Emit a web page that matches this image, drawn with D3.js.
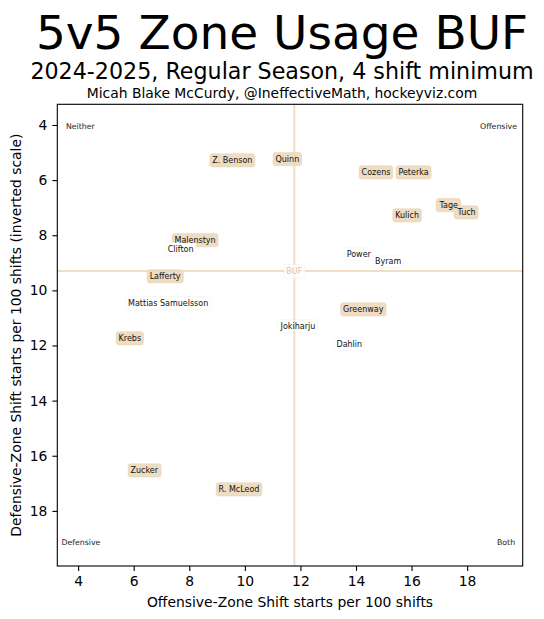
<!DOCTYPE html>
<html>
<head>
<meta charset="utf-8">
<script src="https://cdn.jsdelivr.net/npm/d3@7"></script>
<style>
  body { margin: 0; background: #fff; }
  svg { font-family: "DejaVu Sans", sans-serif; }
</style>
</head>
<body>
<div id="chart"></div>
<script>
// players
const playerNames = ["Z. Benson", "Quinn", "Cozens", "Peterka", "Tage", "Tuch", "Kulich",
  "Malenstyn", "Lafferty", "Greenway", "Krebs", "Zucker", "R. McLeod",
  "Clifton", "Power", "Byram", "Mattias Samuelsson", "Jokiharju", "Dahlin"];
const ozStarts = [9.55, 11.53, 14.72, 16.07, 17.34, 17.98, 15.84,
  8.21, 7.13, 14.26, 5.86, 6.38, 9.79,
  7.69, 14.10, 15.16, 7.24, 11.91, 13.76];
const dzStarts = [5.27, 5.23, 5.71, 5.71, 6.90, 7.16, 7.27,
  8.17, 9.48, 10.68, 11.73, 16.52, 17.21,
  8.49, 8.68, 8.95, 10.46, 11.29, 11.94];
const isForward = [true, true, true, true, true, true, true,
  true, true, true, true, true, true,
  false, false, false, false, false, false];

const teamName = "BUF";
const teamOz = 11.78;
const teamDz = 9.30;

const xTicks = [4, 6, 8, 10, 12, 14, 16, 18];
const yTicks = [4, 6, 8, 10, 12, 14, 16, 18];
const axisDomain = [3.25, 20];

const cornerLabels = ["Neither", "Offensive", "Defensive", "Both"];

const W = 544, H = 619;
const margin = { top: 104.3, right: 21.3, bottom: 53, left: 57.3 };
const tan = "#eedcc3";
const lineTan = "#efd9ba";

const svg = d3.select("#chart").append("svg")
  .attr("width", W).attr("height", H);

const x = d3.scaleLinear().domain(axisDomain).range([margin.left, W - margin.right]);
const y = d3.scaleLinear().domain(axisDomain).range([margin.top, H - margin.bottom]);

// titles
const cx = 282;
svg.append("text").attr("x", cx).attr("y", 49).attr("text-anchor", "middle")
  .attr("font-size", 47).text("5v5 Zone Usage BUF");
svg.append("text").attr("x", cx).attr("y", 78.5).attr("text-anchor", "middle")
  .attr("font-size", 22.2).text("2024-2025, Regular Season, 4 shift minimum");
svg.append("text").attr("x", cx).attr("y", 98).attr("text-anchor", "middle")
  .attr("font-size", 13.9).text("Micah Blake McCurdy, @IneffectiveMath, hockeyviz.com");

// axes
const xAxis = svg.append("g")
  .attr("transform", `translate(0,${H - margin.bottom})`)
  .call(d3.axisBottom(x).tickValues(xTicks).tickSize(4.9).tickPadding(5));
const yAxis = svg.append("g")
  .attr("transform", `translate(${margin.left},0)`)
  .call(d3.axisLeft(y).tickValues(yTicks).tickSize(4.9).tickPadding(5));
[xAxis, yAxis].forEach(g => {
  g.select(".domain").remove();
  g.selectAll("text").attr("font-size", 13.9).attr("font-family", "DejaVu Sans").attr("fill", "#000");
  g.selectAll("line").attr("stroke", "#000").attr("stroke-width", 1.1);
});

svg.append("text")
  .attr("x", (x.range()[0] + x.range()[1]) / 2).attr("y", 607)
  .attr("text-anchor", "middle").attr("font-size", 13.9)
  .text("Offensive-Zone Shift starts per 100 shifts");
svg.append("text")
  .attr("transform", `translate(21,${(y.range()[0] + y.range()[1]) / 2}) rotate(-90)`)
  .attr("text-anchor", "middle").attr("font-size", 13.9)
  .text("Defensive-Zone Shift starts per 100 shifts (inverted scale)");

const plot = svg.append("g");

// corner labels
const cornerPos = [[4.08, 4.06], [19.13, 4.06], [4.10, 19.14], [19.40, 19.14]];
plot.selectAll("text.corner").data(cornerLabels).enter().append("text")
  .attr("class", "corner")
  .attr("x", (d, i) => x(cornerPos[i][0]))
  .attr("y", (d, i) => y(cornerPos[i][1]))
  .attr("dy", "0.35em")
  .attr("text-anchor", "middle").attr("font-size", 7.8).attr("fill", "#222")
  .text(d => d);

// player labels: boxes first, then team lines, then text
const boxLayer = plot.append("g");
const lineLayer = plot.append("g");
const textLayer = plot.append("g");

const idx = d3.range(playerNames.length);
const labels = textLayer.selectAll("text").data(idx).enter().append("text")
  .attr("x", i => x(ozStarts[i]))
  .attr("y", i => y(dzStarts[i]))
  .attr("dy", "0.35em")
  .attr("text-anchor", "middle")
  .attr("font-size", 8)
  .attr("fill", "#111")
  .text(i => playerNames[i]);

const pad = 2.4;
labels.each(function (i) {
  const b = this.getBBox();
  boxLayer.append("rect")
    .attr("x", b.x - pad).attr("y", b.y - pad + 0.3)
    .attr("width", b.width + 2 * pad).attr("height", b.height + 2 * pad - 0.6)
    .attr("rx", 2.4).attr("ry", 2.4)
    .attr("fill", isForward[i] ? tan : "#fff")
    .attr("stroke", isForward[i] ? "#ead5b8" : "#f2f2f2")
    .attr("stroke-width", 0.6);
});

// team average lines
lineLayer.append("line")
  .attr("x1", x(teamOz)).attr("x2", x(teamOz))
  .attr("y1", y.range()[0]).attr("y2", y.range()[1])
  .attr("stroke", lineTan).attr("stroke-width", 2).attr("opacity", 0.85);
lineLayer.append("line")
  .attr("x1", x.range()[0]).attr("x2", x.range()[1])
  .attr("y1", y(teamDz)).attr("y2", y(teamDz))
  .attr("stroke", lineTan).attr("stroke-width", 2).attr("opacity", 0.85);

const buf = textLayer.append("text")
  .attr("x", x(teamOz)).attr("y", y(teamDz)).attr("dy", "0.35em")
  .attr("text-anchor", "middle").attr("font-size", 8).attr("fill", "#e2c6a2")
  .text(teamName);
const bb = buf.node().getBBox();
textLayer.insert("rect", "text:last-child")
  .attr("x", bb.x - pad).attr("y", bb.y - pad)
  .attr("width", bb.width + 2 * pad).attr("height", bb.height + 2 * pad)
  .attr("rx", 2.4).attr("fill", "#fff").attr("opacity", 0.75)
  .attr("stroke", "#f3ece2").attr("stroke-width", 0.6);

// spines
svg.append("rect")
  .attr("x", x.range()[0]).attr("y", y.range()[0])
  .attr("width", x.range()[1] - x.range()[0])
  .attr("height", y.range()[1] - y.range()[0])
  .attr("fill", "none").attr("stroke", "#000").attr("stroke-width", 1.1);
</script>
</body>
</html>
